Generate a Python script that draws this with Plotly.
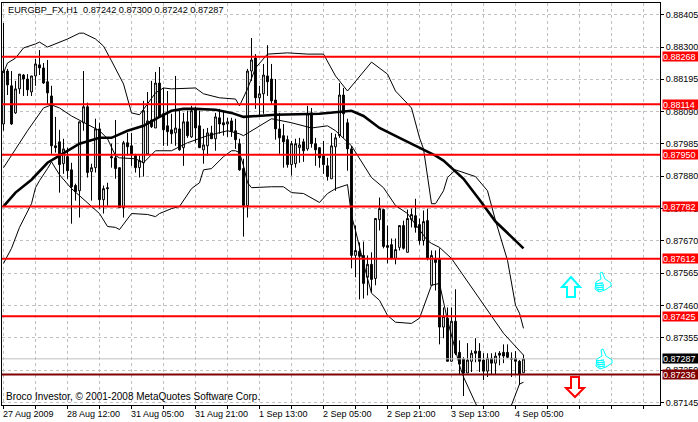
import plotly.graph_objects as go

# prices in points (1e-5)
open_pts = [88050, 88222, 88174, 88086, 88164, 88209, 88196, 88154, 88206, 88242, 88232, 88187, 88141, 87979, 87992, 87921, 87944, 87901, 87850, 87833,
            88054, 88106, 87895, 87908, 88034, 87804, 87843, 87944, 87940, 87908, 87778, 87989, 87979, 87947, 87908, 87924, 87953, 88063, 88037, 88183,
            88083, 88044, 88031, 88021, 88034, 87973, 88057, 88008, 88096, 88044, 87966, 87979, 88021, 88002, 88070, 88054, 88050, 88060, 88028, 87986,
            87905, 87785, 88222, 88264, 88135, 88148, 88206, 88196, 88128, 88034, 88012, 87999, 87918, 87921, 87973, 87992, 87969, 88086, 87986, 87973,
            87947, 87914, 87872, 87976, 88012, 88144, 88054, 87969, 87623, 87636, 87623, 87552, 87594, 87548, 87739, 87772, 87655, 87658, 87613, 87649,
            87720, 87633, 87739, 87752, 87723, 87671, 87736, 87526, 87613, 87613, 87390, 87419, 87279, 87409, 87308, 87286, 87241, 87279, 87312, 87312,
            87283, 87247, 87289, 87273, 87305, 87308, 87308, 87289, 87289, 87279, 87242]
high_pts = [88378, 88229, 88222, 88190, 88212, 88212, 88212, 88206, 88261, 88290, 88248, 88258, 88174, 88073, 88031, 88002, 87973, 87924, 87856, 88057,
            88222, 88119, 87921, 88067, 88054, 87850, 87859, 87986, 88063, 87908, 87995, 88021, 88021, 87953, 87947, 88125, 88154, 88190, 88219, 88235,
            88167, 88157, 88083, 88206, 88093, 88086, 88093, 88109, 88106, 88093, 88034, 88037, 88044, 88086, 88099, 88093, 88070, 88070, 88067, 88002,
            87937, 88229, 88329, 88277, 88174, 88245, 88306, 88245, 88196, 88086, 88050, 88012, 87995, 88002, 88005, 88002, 88109, 88102, 88005, 87973,
            87995, 87940, 88021, 88018, 88183, 88167, 88067, 87979, 87720, 87665, 87668, 87623, 87633, 87743, 87811, 87775, 87720, 87678, 87678, 87720,
            87736, 87772, 87775, 87807, 87743, 87769, 87775, 87639, 87639, 87646, 87454, 87454, 87454, 87513, 87347, 87292, 87338, 87315, 87354, 87338,
            87305, 87305, 87305, 87308, 87312, 87334, 87334, 87308, 87312, 87283, 87300]
low_pts = [88028, 88144, 88047, 88083, 88148, 88141, 88141, 88141, 88174, 88209, 88180, 88112, 87953, 87957, 87827, 87888, 87872, 87726, 87801, 87746,
           88028, 87876, 87801, 87892, 87775, 87759, 87785, 87908, 87872, 87778, 87746, 87947, 87914, 87892, 87876, 87879, 87953, 88037, 88037, 88070,
           87979, 87979, 87986, 87979, 87963, 87914, 88005, 88005, 87989, 87973, 87921, 87947, 88002, 87963, 88018, 88012, 88008, 88008, 87969, 87898,
           87684, 87746, 88190, 88099, 88076, 88083, 88141, 88115, 87999, 87953, 87908, 87908, 87882, 87908, 87924, 87927, 87963, 87973, 87914, 87908,
           87888, 87866, 87872, 87833, 88005, 88005, 87898, 87581, 87552, 87480, 87483, 87493, 87503, 87526, 87704, 87646, 87597, 87610, 87594, 87639,
           87642, 87633, 87714, 87697, 87658, 87655, 87607, 87526, 87509, 87334, 87354, 87279, 87279, 87299, 87237, 87166, 87241, 87244, 87276, 87244,
           87218, 87228, 87237, 87237, 87266, 87273, 87289, 87228, 87237, 87202, 87242]
close_pts = [88222, 88177, 88050, 88164, 88212, 88196, 88161, 88206, 88245, 88232, 88183, 88151, 87979, 87973, 87918, 87969, 87898, 87846, 87830, 88057,
             88106, 87892, 87908, 88034, 87804, 87840, 87840, 87940, 87905, 87778, 87989, 87976, 87950, 87908, 87931, 88093, 88060, 88041, 88183, 88073,
             88031, 88025, 88018, 88037, 87966, 88057, 88012, 88093, 88037, 87973, 87982, 88021, 88002, 88073, 88050, 88047, 88057, 88025, 87999, 87901,
             87785, 88222, 88258, 88135, 88148, 88209, 88187, 88125, 88034, 88005, 87992, 87918, 87986, 87986, 87982, 87963, 88083, 87986, 87966, 87940,
             87918, 87879, 87979, 88005, 88144, 88083, 87969, 87623, 87639, 87620, 87532, 87594, 87545, 87743, 87775, 87652, 87649, 87613, 87642, 87720,
             87646, 87743, 87756, 87714, 87671, 87733, 87613, 87623, 87600, 87390, 87425, 87279, 87409, 87305, 87270, 87241, 87283, 87305, 87305, 87279,
             87247, 87289, 87273, 87296, 87299, 87296, 87292, 87286, 87279, 87237, 87287]

ma_idx = [0, 3, 7, 11, 14, 19, 24, 27, 31, 35, 39, 42, 45, 48, 53, 57, 60, 68, 79, 84, 87, 90, 94, 99, 104, 108, 110, 115, 119, 123, 130]
ma_pts = [87782, 87827, 87869, 87924, 87947, 87986, 88005, 88005, 88028, 88044, 88073, 88093, 88099, 88099, 88096, 88086, 88073, 88080, 88083, 88089,
          88093, 88076, 88037, 88005, 87973, 87947, 87931, 87872, 87804, 87733, 87646]

upper_idx = [0, 1, 3, 5, 8, 9, 11, 13, 16, 19, 20, 23, 25, 27, 30, 32, 34, 36, 38, 40, 42, 48, 50, 54, 58, 59, 61, 63, 66, 71, 76, 80, 83, 86, 90, 92,
             96, 98, 102, 104, 105, 106, 107, 108, 110, 111, 113, 118, 121, 123, 126, 128, 129, 130]
upper_pts = [88216, 88248, 88264, 88297, 88310, 88316, 88300, 88310, 88326, 88345, 88345, 88326, 88303, 88255, 88180, 88086, 88080, 88115, 88151, 88167,
             88164, 88167, 88148, 88135, 88131, 88109, 88164, 88232, 88277, 88281, 88277, 88277, 88206, 88157, 88222, 88251, 88212, 88157, 88102, 88005,
             87969, 87882, 87791, 87791, 87833, 87876, 87901, 87879, 87833, 87736, 87607, 87461, 87435, 87386]

mid_idx = [0, 6, 10, 12, 14, 17, 24, 26, 28, 29, 33, 35, 38, 42, 46, 51, 56, 59, 60, 65, 67, 72, 77, 81, 83, 87, 89, 92, 95, 98, 101, 106, 107, 109, 112,
           118, 125, 130]
mid_pts = [87908, 88028, 88102, 88112, 88102, 88076, 88028, 88002, 87947, 87940, 87937, 87924, 87963, 87963, 87989, 88012, 88028, 88018, 88012, 88050,
           88067, 88054, 88037, 88044, 88028, 87979, 87937, 87876, 87843, 87785, 87759, 87671, 87662, 87649, 87613, 87500, 87370, 87299]

lower_idx = [0, 2, 4, 7, 8, 9, 11, 12, 14, 17, 19, 24, 26, 28, 29, 32, 36, 38, 39, 42, 44, 47, 49, 50, 52, 55, 57, 58, 59, 60, 61, 62, 67, 70, 72, 75, 79,
             81, 83, 86, 87, 88, 90, 92, 94, 96, 98, 102, 104, 107, 109, 111, 114, 115, 118, 120, 125, 127, 129, 130]
lower_pts = [87597, 87646, 87714, 87791, 87843, 87866, 87905, 87927, 87885, 87840, 87817, 87759, 87717, 87714, 87707, 87759, 87756, 87749, 87759, 87775,
             87782, 87840, 87859, 87901, 87905, 87944, 87963, 87963, 87957, 87914, 87859, 87843, 87846, 87846, 87827, 87824, 87795, 87824, 87840, 87853,
             87752, 87704, 87597, 87500, 87477, 87428, 87406, 87402, 87419, 87526, 87532, 87412, 87266, 87228, 87143, 87088, 87088, 87137, 87205, 87211]

level_prices = [0.88268, 0.88114, 0.87950, 0.87782, 0.87612, 0.87425]
support_price = 0.87236
last_price = 0.87287
y_ticks = [0.88405, 0.88300, 0.88195, 0.88090, 0.87985, 0.87880, 0.87775, 0.87670, 0.87565, 0.87460, 0.87355, 0.87250, 0.87145]
date_idx = [0, 16, 32, 48, 64, 80, 96, 112, 128]
date_labels = ["27 Aug 2009", "28 Aug 12:00", "31 Aug 05:00", "31 Aug 21:00", "1 Sep 13:00", "2 Sep 05:00", "2 Sep 21:00", "3 Sep 13:00", "4 Sep 05:00"]


def to_price(pts):
    return [p / 100000 for p in pts]


FONT = "Liberation Sans"
W, H = 698, 422
L, R, T, B = 2, 660, 3, 405


def fx(px):
    return (px - L) / (R - L)


def fy(py):
    return (B - py) / (B - T)


fig = go.Figure()
fig.add_trace(go.Candlestick(
    x=list(range(len(open_pts))),
    open=to_price(open_pts),
    high=to_price(high_pts),
    low=to_price(low_pts),
    close=to_price(close_pts),
    increasing=dict(line=dict(color="black", width=1), fillcolor="white"),
    decreasing=dict(line=dict(color="black", width=1), fillcolor="black"),
    whiskerwidth=0,
    showlegend=False,
))
for idx, pts, width in [(upper_idx, upper_pts, 1), (mid_idx, mid_pts, 1), (lower_idx, lower_pts, 1), (ma_idx, ma_pts, 2.6)]:
    fig.add_trace(go.Scatter(x=idx, y=to_price(pts), mode="lines", line=dict(color="black", width=width), showlegend=False))

fig.add_shape(type="line", xref="paper", x0=0, x1=1, y0=last_price, y1=last_price, line=dict(color="#c0c0c0", width=1))
for p in level_prices:
    fig.add_shape(type="line", xref="paper", x0=0, x1=1, y0=p, y1=p, line=dict(color="#ff0000", width=2))
fig.add_shape(type="line", xref="paper", x0=0, x1=1, y0=support_price, y1=support_price, line=dict(color="#800000", width=2))


def price_tag(p, bg):
    fig.add_annotation(xref="paper", x=1, xanchor="left", xshift=2, y=p, yanchor="middle", text=f"{p:.5f}", showarrow=False,
                       bgcolor=bg, width=35, height=9, borderpad=0, align="left",
                       font=dict(family=FONT, size=9, color="white"))


for p in level_prices:
    price_tag(p, "#ff0000")
price_tag(last_price, "#000000")
price_tag(support_price, "#800000")

for i, label in zip(date_idx, date_labels):
    fig.add_annotation(x=i, xanchor="left", xshift=-3, yref="paper", y=0, yanchor="top", yshift=-2, text=label, showarrow=False,
                       font=dict(family=FONT, size=9, color="black"))

fig.add_annotation(xref="paper", x=fx(6), xanchor="left", yref="paper", y=fy(10), yanchor="middle", showarrow=False,
                   text="EURGBP_FX,H1  0.87242 0.87300 0.87242 0.87287", font=dict(family=FONT, size=9.2, color="black"))
fig.add_annotation(xref="paper", x=fx(4), xanchor="left", yref="paper", y=fy(396), yanchor="middle", showarrow=False,
                   text="Broco Investor, © 2001-2008 MetaQuotes Software Corp.", font=dict(family=FONT, size=10, color="black"))


def pixel_path(points):
    # y is up in pixel sized shapes
    return "M " + " L ".join(f"{dx} {-dy}" for dx, dy in points) + " Z"


def drawn_object(px, py, shapes, color, width):
    fig.add_shape(type="path", xref="paper", yref="paper", xsizemode="pixel", ysizemode="pixel",
                  xanchor=fx(px), yanchor=fy(py), path=" ".join(pixel_path(s) for s in shapes),
                  line=dict(color=color, width=width), fillcolor="white")


up_arrow = [[(0, -10), (9, 0), (4, 0), (4, 10), (-4, 10), (-4, 0), (-9, 0)]]
down_arrow = [[(-4, -10), (4, -10), (4, 1), (9, 1), (0, 10), (-9, 1), (-4, 1)]]
thumb = [
    [(-7, 0), (-2, -3), (-3, -9), (-1, -10), (2, -3), (8, 1), (8, 4), (2, 8), (-4, 10), (-8, 7)],
    [(-8, 2), (0, 1)],
    [(-8, 4), (1, 3)],
    [(-7, 6), (1, 5)],
    [(-6, 8), (1, 7)],
]
drawn_object(571, 287, up_arrow, "#00ffff", 2)
drawn_object(575, 387, down_arrow, "#ff0000", 2)
drawn_object(603, 282, thumb, "#00ffff", 1)
drawn_object(604, 359, thumb, "#00ffff", 1)

fig.update_xaxes(
    type="linear",
    range=[(L - 3.5) / 4, (R - 3.5) / 4],
    rangeslider_visible=False,
    tickvals=list(range(0, 165, 8)),
    showticklabels=False,
    ticks="outside",
    ticklen=3,
    tickcolor="black",
    showgrid=True,
    gridcolor="#c0c0c0",
    griddash="3px,3px",
    zeroline=False,
    showline=True,
    linecolor="black",
    mirror=True,
)
fig.update_yaxes(
    side="right",
    range=[0.87137, 0.88443],
    tickvals=y_ticks,
    tickformat=".5f",
    ticks="outside",
    ticklen=3,
    tickcolor="black",
    tickfont=dict(family=FONT, size=9, color="black"),
    showgrid=True,
    gridcolor="#c0c0c0",
    griddash="3px,3px",
    zeroline=False,
    showline=True,
    linecolor="black",
    mirror=True,
)
fig.update_layout(
    width=W,
    height=H,
    margin=dict(l=L, r=W - R, t=T, b=H - B, autoexpand=False),
    paper_bgcolor="white",
    plot_bgcolor="white",
    hovermode=False,
    boxgap=0.35,
)

fig.write_html("out.html", config=dict(displayModeBar=False), post_script="document.body.style.margin='0';")
